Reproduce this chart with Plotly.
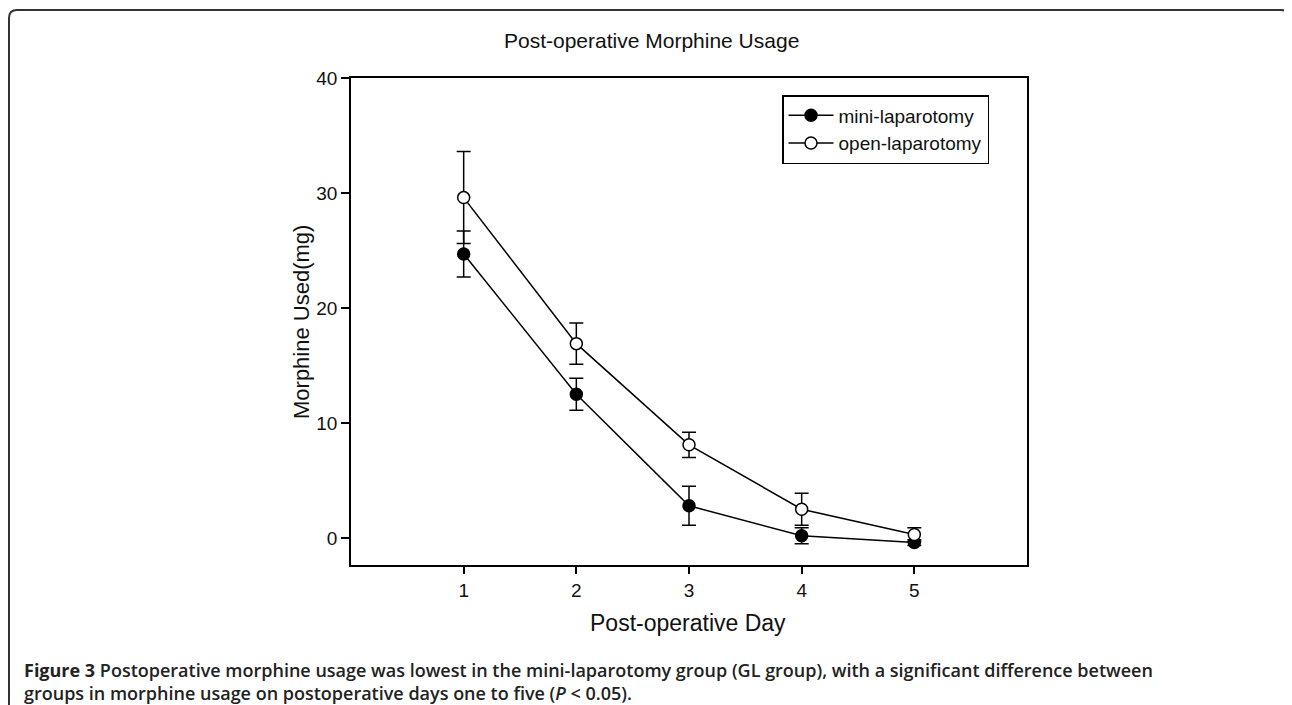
import plotly.graph_objects as go

# ---- data ----
days = [1, 2, 3, 4, 5]
mini_mean = [24.7, 12.5, 2.8, 0.2, -0.4]
mini_err = [2.0, 1.4, 1.7, 0.7, 0.25]
open_mean = [29.6, 16.9, 8.1, 2.5, 0.3]
open_err = [4.0, 1.8, 1.1, 1.4, 0.6]
y_ticks = [0, 10, 20, 30, 40]
title = "Post-operative Morphine Usage"
x_title = "Post-operative Day"
y_title = "Morphine Used(mg)"
caption_1 = ("<b>Figure 3</b> Postoperative morphine usage was lowest in the mini-laparotomy group "
             "(GL group), with a significant difference between")
caption_2 = "groups in morphine usage on postoperative days one to five (<i>P</i> &lt; 0.05)."

# page has an 8px body margin; figure coordinates below are page coords - 8
OFF = 8
W, H = 1292 - OFF, 705 - OFF
L, R, T, B = 351 - OFF, 1027 - OFF, 78 - OFF, 565 - OFF


def px(xp):
    return (xp - OFF - L) / (R - L)


def py(yp):
    return (B - (yp - OFF)) / (B - T)


FONT = "Arial, Liberation Sans, sans-serif"

fig = go.Figure()
fig.add_trace(go.Scatter(
    x=days, y=mini_mean, name="mini-laparotomy", mode="lines+markers",
    line=dict(color="black", width=1.5),
    marker=dict(symbol="circle", size=12, color="black", line=dict(color="black", width=1.5)),
    error_y=dict(type="data", array=mini_err, visible=True, color="black", thickness=1.5, width=7),
))
fig.add_trace(go.Scatter(
    x=days, y=open_mean, name="open-laparotomy", mode="lines+markers",
    line=dict(color="black", width=1.5),
    marker=dict(symbol="circle", size=12, color="white", line=dict(color="black", width=1.5)),
    error_y=dict(type="data", array=open_err, visible=True, color="black", thickness=1.5, width=7),
))

# frame around the whole figure (rounded top corners), in page pixel coords
x0, x1, y0, y1, rr = 9, 1289, 10, 720, 8
path = (f"M {px(x0)},{py(y1)} L {px(x0)},{py(y0 + rr)} "
        f"Q {px(x0)},{py(y0)} {px(x0 + rr)},{py(y0)} "
        f"L {px(x1 - rr)},{py(y0)} Q {px(x1)},{py(y0)} {px(x1)},{py(y0 + rr)} "
        f"L {px(x1)},{py(y1)}")
fig.add_shape(type="path", path=path, xref="paper", yref="paper",
              line=dict(color="#333333", width=2), layer="above")

annotations = [
    dict(text=title, x=px(651), y=py(40), xref="paper", yref="paper", showarrow=False,
         xanchor="center", yanchor="middle", font=dict(family=FONT, size=21, color="#111")),
    dict(text=x_title, x=px(688), y=py(623), xref="paper", yref="paper", showarrow=False,
         xanchor="center", yanchor="middle", font=dict(family=FONT, size=23, color="#111")),
    dict(text=y_title, x=px(301), y=py(322), xref="paper", yref="paper", showarrow=False,
         xanchor="center", yanchor="middle", textangle=-90,
         font=dict(family=FONT, size=22, color="#111")),
    dict(text=caption_1 + "<br>" + caption_2, x=px(22), y=py(681), xref="paper", yref="paper",
         showarrow=False, xanchor="left", yanchor="middle", align="left",
         font=dict(family="Open Sans, sans-serif", size=18, color="#222", weight=600)),
]

fig.update_layout(
    width=W, height=H,
    margin=dict(l=L, r=W - R, t=T, b=H - B, autoexpand=False),
    paper_bgcolor="white", plot_bgcolor="white",
    font=dict(family=FONT, color="#111"),
    showlegend=True,
    legend=dict(x=px(782), y=py(95), xanchor="left", yanchor="top",
                bordercolor="black", borderwidth=1.5, bgcolor="white",
                font=dict(family=FONT, size=19, color="#111"),
                itemwidth=45, tracegroupgap=0),
    annotations=annotations,
)
fig.update_xaxes(range=[0, 6], tickvals=days, ticktext=[str(d) for d in days],
                 showline=True, mirror=True, linecolor="black", linewidth=1.5,
                 ticks="outside", ticklen=7, tickwidth=1.5, tickcolor="black",
                 showgrid=False, zeroline=False,
                 tickfont=dict(family=FONT, size=19, color="#111"))
fig.update_yaxes(range=[-2.35, 40], tickvals=y_ticks,
                 showline=True, mirror=True, linecolor="black", linewidth=1.5,
                 ticks="outside", ticklen=8, tickwidth=1.5, tickcolor="black",
                 showgrid=False, zeroline=False,
                 tickfont=dict(family=FONT, size=19, color="#111"))

fig.write_html("out.html")
